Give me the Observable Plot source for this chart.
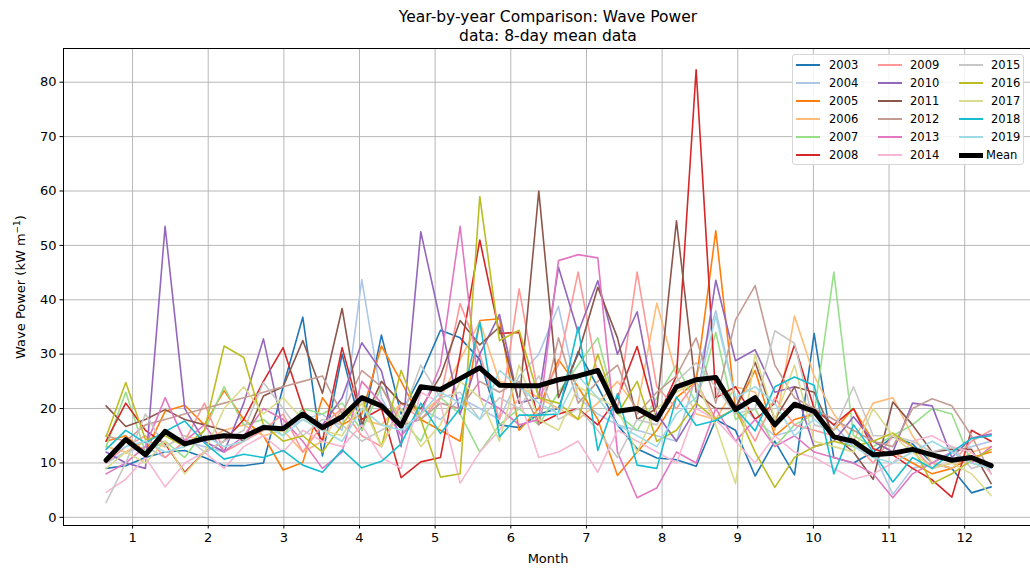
<!DOCTYPE html>
<html><head><meta charset="utf-8">
<script src="https://cdn.jsdelivr.net/npm/d3@7"></script>
<script src="https://cdn.jsdelivr.net/npm/@observablehq/plot@0.6"></script>
<style>
body{margin:0;background:#fff;font-family:"DejaVu Sans",sans-serif;}
#wrap{position:relative;width:1030px;height:572px;overflow:hidden;}
#title{position:absolute;left:63px;width:970px;top:8px;text-align:center;font-size:15.5px;line-height:19px;color:#000;}
#xlabel{position:absolute;left:63px;width:970px;top:551px;text-align:center;font-size:13px;color:#000;}
#ylabel{position:absolute;left:20px;top:287px;transform:translate(-50%,-50%) rotate(-90deg);white-space:nowrap;font-size:13px;color:#000;}
#legend{position:absolute;left:792px;top:54px;width:232px;height:111px;border:1px solid #d6d6d6;border-radius:3px;background:rgba(255,255,255,0.85);box-sizing:border-box;}
.li{position:absolute;font-size:11.5px;color:#000;line-height:14px;}
.ls{position:absolute;}
</style>
</head><body>
<div id="wrap">
<div id="chart"></div>
<div id="title">Year-by-year Comparison: Wave Power<br>data: 8-day mean data</div>
<div id="xlabel">Month</div>
<div id="ylabel">Wave Power (kW m<sup style="font-size:9px">−1</sup>)</div>
<div id="legend"></div>
</div>
<script>
const years = ["2003","2004","2005","2006","2007","2008","2009","2010","2011","2012","2013","2014","2015","2016","2017","2018","2019"];
const colors = ["#1f77b4","#aec7e8","#ff7f0e","#ffbb78","#98df8a","#d62728","#ff9896","#9467bd","#8c564b","#c49c94","#e377c2","#f7b6d2","#c7c7c7","#bcbd22","#dbdb8d","#17becf","#9edae5"];
const xTicks = [1,2,3,4,5,6,7,8,9,10,11,12];
const yTicks = [0,10,20,30,40,50,60,70,80];
// x position (month) of each 8-day period
const periods = [0.65,0.91,1.17,1.43,1.69,1.95,2.21,2.47,2.73,2.99,3.25,3.51,3.77,4.03,4.29,4.55,4.81,5.07,5.33,5.59,5.85,6.11,6.37,6.63,6.89,7.15,7.41,7.67,7.93,8.19,8.45,8.71,8.97,9.23,9.49,9.75,10.01,10.27,10.53,10.79,11.05,11.31,11.57,11.83,12.09,12.35];

const v2003 = [9,9.5,11,12,12.3,11,9.5,9.5,10,24,36.8,11.3,30,16,33.5,19,26,34.4,33,29,17,16.5,19,20,30.5,24,17,12.6,10.9,10.6,9.4,18,16,7.6,14,7.8,33.8,11,10,12,14.8,13.5,10,9,4.5,5.6];
const v2004 = [10,12,13,11,14,13,12,15,17,16,18,19,16,43.7,22,15,20,18,22,20,18,26,30,38.8,22,19,17,16,15,14,26,38,22,18,15,16,20,17,13,12,4.2,9,10,12,13,14];
const v2005 = [14,15,12,19.5,20.6,17,23.3,18,15,8.7,10.1,22,17,19,31.5,25,18,16,14,36.2,36.5,16,20,29,24,18,7.7,12,16,22,25,52.7,20,27,15,18,19,16,20,14,12,10,8,9,11,12];
const v2006 = [13,12,14,13,15,14,16,17,15,16,12,14,20,18,17,21,19,22,29,36,25,24,22,20,18,21,25,20,39.4,26,19,18,24,23,16,37,26,19,14,21,22,15,10,9,12,13];
const v2007 = [13,23,12,14,11,16,24,17,18,15,20,19,21,16,24,18,14,22,19,12,17,20,17,23,28,33,19,16,22,28,21,34,18,20,13,17,19,45.1,15,13,15,17,20,19,10,9];
const v2008 = [14,21,16,13.5,8.3,12,14,18,25,31.2,20,14,31.2,18,20,7.3,10.2,11,30,51,33.8,34,17.2,19,20,17,22,31.4,18,26,82.3,22,24,18,21,31.7,20,17,20,12.6,11.5,9,6.9,3.7,16,14];
const v2009 = [10,13,15,11,14,21,12,14,16,19,12,17,20,15,13,21,18,22,39.3,30,18,42,22,28,45.1,26,20,45.1,24,20,25,18,20,14,22,17,16,15,14,10,15,13,9,10,14,16];
const v2010 = [12,10,9,53.5,20,14,12,21,32.8,16,19,17,22,32.1,26.9,13,52.5,36,19,30,37.3,21,22,46,34,43.5,30,37.8,19,14,20,43.6,28.8,30.8,23,24,13,14,18.5,14,12,21,20.5,11,14.6,15.3];
const v2011 = [20.5,16.7,18,19.8,18,17,16,14,22.3,24,32.5,22.8,38.4,17,25,21,20,26,36.2,31.7,35,21,60,22,30,42.3,33,18,20,54.5,23,20,20,28.5,18,24,23,15,12,7,21.2,17,12,12.5,12.5,6.2];
const v2012 = [15,14,17,18,19,20,21,22,23,24,25,26,19,27,24,17,18,21,20,25,23,25,17,33,21,25,28,19,23,26,33,21,36.3,42.6,28,22,20,18,16,14,13,20,21.8,20.5,15,8];
const v2013 = [8,10,13,22,14,17,12,15,20,18,14,9,12,25,21,15,19,28,53.5,22,20,17,18,47.2,48.3,47.7,12,3.6,5.4,12,10,20,14,18,13,15,12,11,10,8,3.6,8,10,12,10,13];
const v2014 = [4.6,7,11,5.6,10,12,9,13,15,12,16,14,13,17,11,9,23,21,6.3,12,16,22,11,12,14,8.3,16,14,12,10,20,18,14,10,15,12,11,9,7,8,10,14,15,13,12,8];
const v2015 = [2.7,10,19,13,15,12,14,16,24.8,20,15,18,17,14,16,18,28,22,23,18,22,20,26,18,20,16,11,18,17,25,28.4,24,19,20,34.3,32,17,16,24,15,15,14,12,13,9,10];
const v2016 = [14.8,24.8,14.3,15,13,16,31.5,29.4,17,14,15,12,17,22,13,27,18,7.4,8,59,32.5,34.4,22,21,18,30,19,25,14,16,21,18,20,12,5.5,11,13,14,13,14,15.5,13,6.2,8,10.5,12.5];
const v2017 = [9,12,10,14,8,12,20,24,19,22,18,16,15,21,13,20,13,17,25,22,14,28,18,16,24,22,20,12,20,23,25,17,6.2,30,18,28,14,13,12,20,15,12,9,10,8,4];
const v2018 = [12.5,16,13.7,15.8,17.7,13.7,10.7,11.6,11,12.3,9.6,8.3,12.4,9.1,10.3,13.5,21,15.4,20,35.9,14.8,18.8,18.8,19,35,12.3,22.7,9.6,9,22.1,16.9,17.8,20,15.9,24,25.8,24.3,8,17,12,6.5,11,9,12,14.5,15];
const v2019 = [11,13,14,12,13,15,13,14,17,15,18,16,14,20,17,16,19,23,21,18,27,24,21,19,26,22,17,15,13,19,22,37,22,24,21,15,18,15,13,11,10,12,14,12,10,9];
const meanValues = [10.5,14.3,11.5,15.8,13.5,14.5,15,14.8,16.5,16.3,19,16.5,18.5,22,20.5,16.8,24,23.5,25.5,27.5,24.3,24.2,24.2,25.3,26,27,19.5,20,18,24,25.3,25.7,19.8,22,17,20.8,19.5,14.8,14,11.5,11.8,12.5,11.5,10.5,11,9.5];

const series = [v2003,v2004,v2005,v2006,v2007,v2008,v2009,v2010,v2011,v2012,v2013,v2014,v2015,v2016,v2017,v2018,v2019];
const rows = [];
years.forEach((y, k) => series[k].forEach((v, i) => rows.push({year: y, month: periods[i], value: v})));
const meanRows = meanValues.map((v, i) => ({month: periods[i], value: v}));

const xDom = [0.087, 12.87], yDom = [-1.5, 86.2];
const chart = Plot.plot({
  width: 1030, height: 572,
  marginLeft: 63, marginRight: 0, marginTop: 48, marginBottom: 47,
  style: {fontFamily: "DejaVu Sans", fontSize: "13px", background: "white", color: "black"},
  x: {domain: xDom},
  y: {domain: yDom},
  color: {domain: years, range: colors},
  marks: [
    Plot.gridX(xTicks, {stroke: "#b0b0b0", strokeOpacity: 1, strokeWidth: 0.9}),
    Plot.gridY(yTicks, {stroke: "#b0b0b0", strokeOpacity: 1, strokeWidth: 0.9}),
    Plot.line(rows, {x: "month", y: "value", z: "year", stroke: "year", strokeWidth: 1.6, strokeLinejoin: "round"}),
    Plot.line(meanRows, {x: "month", y: "value", stroke: "black", strokeWidth: 5, strokeLinejoin: "round"}),
    Plot.ruleY([yDom[0]], {stroke: "black", strokeWidth: 1}),
    Plot.ruleY([yDom[1]], {stroke: "black", strokeWidth: 1}),
    Plot.ruleX([xDom[0]], {stroke: "black", strokeWidth: 1}),
    Plot.axisX(xTicks, {tickSize: 3.5, tickPadding: 3.5, fontSize: 13, label: null, tickFormat: d => String(d)}),
    Plot.axisY(yTicks, {tickSize: 3.5, tickPadding: 3.5, fontSize: 13, label: null, tickFormat: d => String(d)})
  ]
});
document.getElementById("chart").appendChild(chart);

// legend
const leg = document.getElementById("legend");
const entries = years.map((y, k) => ({label: y, color: colors[k], w: 1.8})).concat([{label: "Mean", color: "black", w: 5}]);
const colX = [[3, 36], [85, 117], [166, 198]];
const rowY = [10, 28, 46, 64, 82, 100];
entries.forEach((e, k) => {
  const c = Math.floor(k / 6), r = k % 6;
  const s = document.createElement("div");
  s.className = "ls";
  s.style.left = colX[c][0] + "px"; s.style.width = "24px";
  s.style.top = (rowY[r] - e.w / 2) + "px"; s.style.height = e.w + "px";
  s.style.background = e.color;
  leg.appendChild(s);
  const t = document.createElement("div");
  t.className = "li";
  t.style.left = (e.label === "Mean" ? colX[c][1] - 5 : colX[c][1]) + "px";
  t.style.top = (rowY[r] - 7) + "px";
  t.textContent = e.label;
  leg.appendChild(t);
});
</script>
</body></html>
